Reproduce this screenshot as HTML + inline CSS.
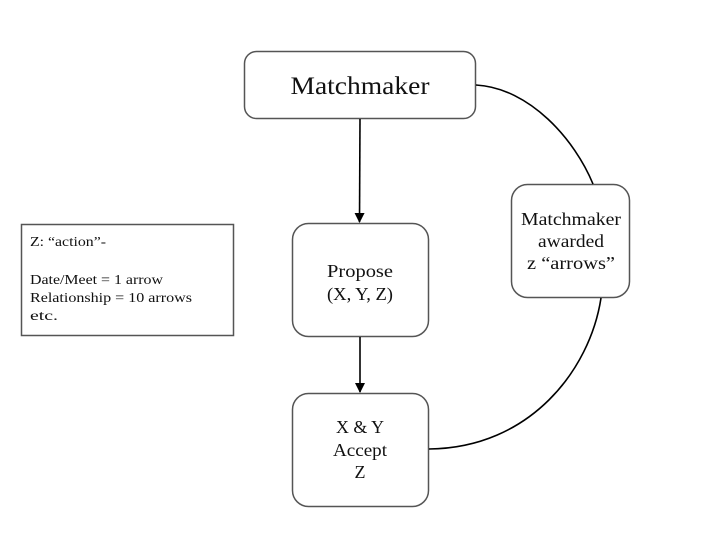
<!DOCTYPE html>
<html><head><meta charset="utf-8"><style>
html,body{margin:0;padding:0;background:#fff;}
svg{display:block;}
text{font-family:"Liberation Serif",serif;fill:#111;}
</style></head><body>
<svg width="720" height="540" viewBox="0 0 720 540" xmlns="http://www.w3.org/2000/svg">
<defs><marker id="a" markerWidth="10" markerHeight="10" refX="9" refY="5" orient="auto" markerUnits="userSpaceOnUse"><path d="M0,0 L10,5 L0,10 z" fill="#000"/></marker></defs>
<g fill="#fff" stroke="#555" stroke-width="1.5">
<rect x="244.5" y="51.5" width="231" height="67" rx="12"/>
<rect x="292.5" y="223.5" width="136" height="113" rx="16"/>
<rect x="292.5" y="393.5" width="136" height="113" rx="16"/>
<rect x="511.5" y="184.5" width="118" height="113" rx="16"/>
<rect x="21.5" y="224.5" width="212" height="111"/>
</g>
<g fill="none" stroke="#000" stroke-width="1.6">
<line x1="360" y1="119" x2="359.5" y2="222" marker-end="url(#a)"/>
<line x1="360" y1="337" x2="360" y2="392" marker-end="url(#a)"/>
<path d="M476,85 C530,88 575,140 593,184"/>
<path d="M601,298 C590,370 530,448 429,449"/>
</g>
<text x="360" y="94" font-size="25" text-anchor="middle" textLength="139" lengthAdjust="spacingAndGlyphs">Matchmaker</text>
<g font-size="18" text-anchor="middle">
<text x="360" y="277" textLength="66" lengthAdjust="spacingAndGlyphs">Propose</text>
<text x="360" y="300" textLength="66" lengthAdjust="spacingAndGlyphs">(X, Y, Z)</text>
<text x="360" y="433" textLength="48" lengthAdjust="spacingAndGlyphs">X &amp; Y</text>
<text x="360" y="456" textLength="54" lengthAdjust="spacingAndGlyphs">Accept</text>
<text x="360" y="478">Z</text>
<text x="571" y="225" textLength="100" lengthAdjust="spacingAndGlyphs">Matchmaker</text>
<text x="571" y="247" textLength="66" lengthAdjust="spacingAndGlyphs">awarded</text>
<text x="571" y="269" textLength="88" lengthAdjust="spacingAndGlyphs">z “arrows”</text>
</g>
<g font-size="14">
<text x="30" y="246" textLength="76" lengthAdjust="spacingAndGlyphs">Z: “action”-</text>
<text x="30" y="284" textLength="133" lengthAdjust="spacingAndGlyphs">Date/Meet = 1 arrow</text>
<text x="30" y="302" textLength="162" lengthAdjust="spacingAndGlyphs">Relationship = 10 arrows</text>
<text x="30" y="320" textLength="28" lengthAdjust="spacingAndGlyphs">etc.</text>
</g>
</svg>
</body></html>
